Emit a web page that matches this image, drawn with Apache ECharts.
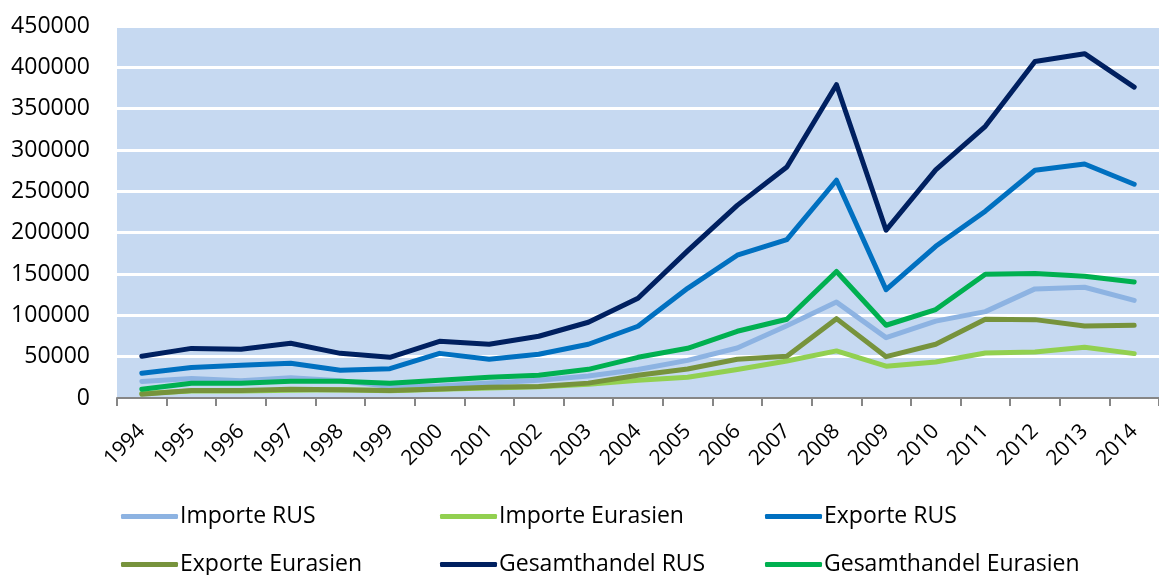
<!DOCTYPE html>
<html>
<head>
<meta charset="utf-8">
<script src="https://cdn.jsdelivr.net/npm/echarts@6/dist/echarts.min.js"></script>
<style>
  html, body { margin: 0; padding: 0; background: #fff; }
  #chart { width: 1159px; height: 575px; }
</style>
</head>
<body>
<div id="chart"></div>
<script>
var years = ['1994','1995','1996','1997','1998','1999','2000','2001','2002','2003','2004',
             '2005','2006','2007','2008','2009','2010','2011','2012','2013','2014'];

var importeRUS = [20000, 23500, 21000, 24500, 21000, 14000, 14500, 18000, 21500, 26500, 34500,
                  45500, 60500, 87500, 116000, 73000, 93000, 104500, 132000, 134000, 118000];
var importeEurasien = [5500, 8500, 8500, 9500, 10000, 8800, 10500, 12000, 13500, 16500, 21500,
                       25000, 34500, 44800, 57000, 38500, 43500, 54500, 55700, 61500, 53700];
var exporteRUS = [30000, 37000, 39500, 42000, 33500, 35500, 54000, 46800, 53000, 65000, 86800,
                  132700, 172700, 191600, 263400, 131000, 183500, 226000, 275500, 283000, 258600];
var exporteEurasien = [4500, 9000, 9000, 10500, 10000, 9000, 11000, 13000, 14000, 18000, 27500,
                       35000, 46800, 50500, 96000, 50000, 65000, 95200, 94800, 87100, 88000];
var gesamtRUS = [50500, 60000, 59000, 66200, 54000, 49200, 68600, 65000, 74700, 91600, 120600,
                 178000, 233000, 279500, 379000, 203000, 276000, 328700, 407000, 416500, 376000];
var gesamtEurasien = [10500, 17800, 17800, 20200, 20200, 17800, 21400, 25000, 27500, 34700, 49200,
                      60100, 80700, 95200, 153000, 88000, 107000, 149700, 150500, 147300, 140400];

var yTicks = { min: 0, max: 450000, interval: 50000 };

var seriesNames = ['Importe RUS', 'Importe Eurasien', 'Exporte RUS',
                   'Exporte Eurasien', 'Gesamthandel RUS', 'Gesamthandel Eurasien'];
var seriesData = [importeRUS, importeEurasien, exporteRUS, exporteEurasien, gesamtRUS, gesamtEurasien];
var colors = ['#8db3e2', '#92d050', '#0070c0', '#77933c', '#002060', '#00b050'];

var FONT = '"Open Sans", "Liberation Sans", sans-serif';

// legend positions: 3 columns x 2 rows
var legendLeft = [121, 440, 765];
var legendTop = [505, 553];

var legends = [];
for (var i = 0; i < seriesNames.length; i++) {
    legends.push({
        data: [seriesNames[i]],
        left: legendLeft[i % 3],
        top: legendTop[Math.floor(i / 3)],
        padding: 0,
        icon: 'roundRect',
        itemWidth: 57,
        itemHeight: 5,
        selectedMode: false,
        textStyle: { fontFamily: FONT, fontSize: 23, color: '#000', padding: [0, 0, 0, -3] }
    });
}

var series = [];
for (var j = 0; j < seriesNames.length; j++) {
    series.push({
        name: seriesNames[j],
        type: 'line',
        data: seriesData[j],
        symbol: 'none',
        color: colors[j],
        lineStyle: { width: 5, color: colors[j], cap: 'round', join: 'round' },
        animation: false
    });
}

var chart = echarts.init(document.getElementById('chart'), null, { renderer: 'canvas' });
chart.setOption({
    animation: false,
    color: colors,
    grid: {
        left: 117,
        top: 26,
        right: -15,
        bottom: 177,
        show: true,
        backgroundColor: '#c6d9f1',
        borderWidth: 0
    },
    legend: legends,
    xAxis: {
        type: 'category',
        data: years,
        boundaryGap: true,
        axisLine: { show: true, lineStyle: { color: '#868686', width: 2 } },
        axisTick: { show: true, length: 8, lineStyle: { color: '#868686', width: 2 } },
        axisLabel: {
            rotate: 45,
            margin: 30,
            fontFamily: FONT,
            fontSize: 21,
            color: '#000',
            interval: 0
        },
        splitLine: { show: false }
    },
    yAxis: {
        type: 'value',
        min: yTicks.min,
        max: yTicks.max,
        interval: yTicks.interval,
        axisLine: { show: false },
        axisTick: { show: false },
        axisLabel: {
            margin: 27,
            fontFamily: FONT,
            fontSize: 23,
            color: '#000',
            formatter: function (v) { return String(v); }
        },
        splitLine: { show: true, lineStyle: { color: '#ffffff', width: 3 } }
    },
    series: series
});
</script>
</body>
</html>
